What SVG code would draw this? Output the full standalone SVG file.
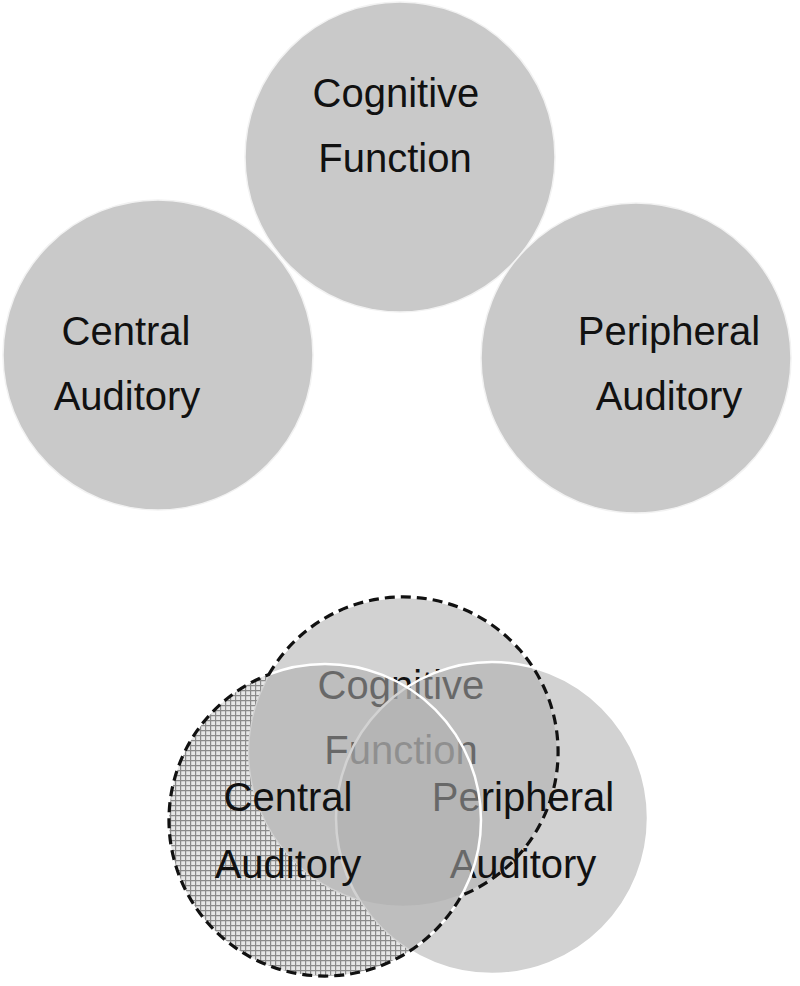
<svg xmlns="http://www.w3.org/2000/svg" width="800" height="986" viewBox="0 0 800 986">
  <style>
    .lbl { font-family: "Liberation Sans", Arial, sans-serif; font-size: 40px; fill: #111; text-anchor: middle; }
    .solid { fill: #c9c9c9; stroke: #f2f2f2; stroke-width: 1.5; }
    .venn { fill: #aeaeae; fill-opacity: 0.556; stroke: #ffffff; stroke-width: 2.5; }
    .dash { fill: none; stroke: #111; stroke-width: 3.2; stroke-dasharray: 10 6; }
  </style>
  <defs>
    <pattern id="hatch" patternUnits="userSpaceOnUse" width="5" height="5">
      <rect width="5" height="5" fill="#e6e6e6"/>
      <path d="M0,0.6 H5 M0.6,0 V5" stroke="#8a8a8a" stroke-width="1.2"/>
    </pattern>
    <mask id="centralOnly" maskUnits="userSpaceOnUse" x="0" y="0" width="800" height="986">
      <circle cx="325" cy="820" r="156" fill="#fff"/>
      <circle cx="403" cy="752" r="155" fill="#000"/>
      <circle cx="492" cy="818" r="156" fill="#000"/>
    </mask>
  </defs>

  <!-- Top: separate circles -->
  <g id="cognitive-top">
    <circle class="solid" cx="400" cy="157" r="155"/>
    <text class="lbl" x="396" y="107">Cognitive</text>
    <text class="lbl" x="395" y="172">Function</text>
  </g>
  <g id="central-top">
    <circle class="solid" cx="158" cy="355" r="155"/>
    <text class="lbl" x="126" y="345">Central</text>
    <text class="lbl" x="127" y="410">Auditory</text>
  </g>
  <g id="peripheral-top">
    <circle class="solid" cx="636" cy="358" r="155"/>
    <text class="lbl" x="669" y="345">Peripheral</text>
    <text class="lbl" x="669" y="410">Auditory</text>
  </g>

  <!-- Bottom: overlapping Venn -->
  <g id="cognitive-venn">
    <circle class="venn" cx="403" cy="752" r="155"/>
    <text class="lbl" x="401" y="699">Cognitive</text>
    <text class="lbl" x="401" y="764">Function</text>
  </g>
  <g id="peripheral-venn">
    <circle class="venn" cx="492" cy="818" r="156"/>
    <text class="lbl" x="523" y="811">Peripheral</text>
    <text class="lbl" x="523" y="878">Auditory</text>
  </g>
  <g id="central-venn">
    <circle class="venn" cx="325" cy="820" r="156"/>
    <rect x="160" y="660" width="330" height="320" fill="url(#hatch)" mask="url(#centralOnly)"/>
    <text class="lbl" x="288" y="811">Central</text>
    <text class="lbl" x="288" y="878">Auditory</text>
  </g>
  <g id="union-outline">
    <path class="dash" d="M268.8,674.5 A155,155 0 1 1 461.5,895.5 A156,156 0 1 1 268.8,674.5 Z"/>
  </g>
  <g id="connectors"/>
</svg>
